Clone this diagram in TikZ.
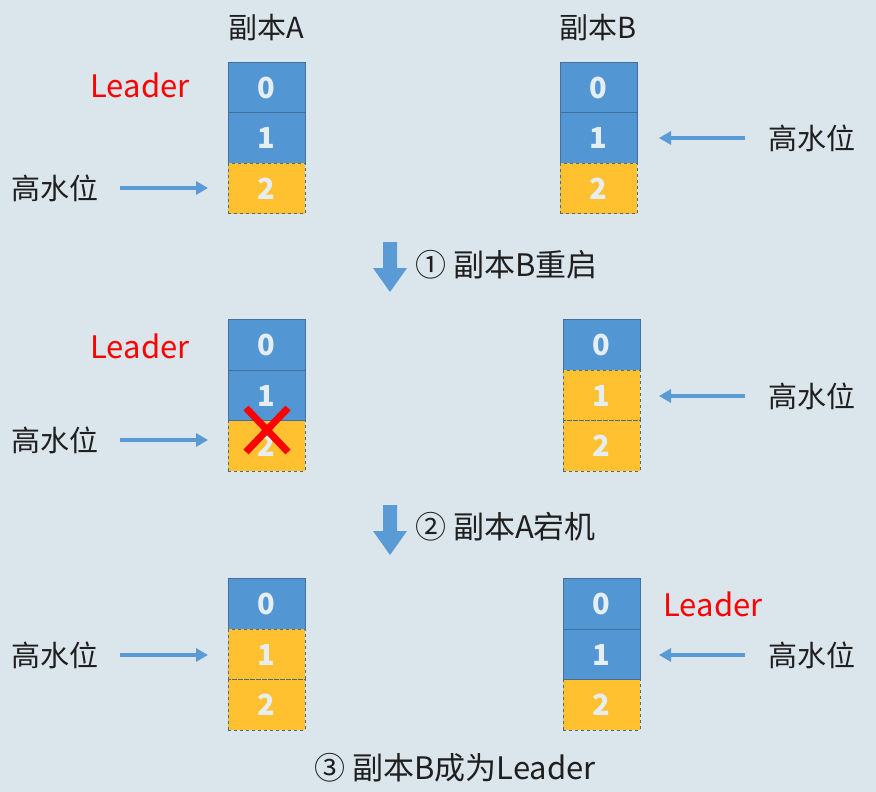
\documentclass[tikz,border=0pt]{standalone}
\usepackage{fontspec}
\setmainfont{Noto Sans CJK SC}
\usetikzlibrary{arrows.meta}
\definecolor{bg}{HTML}{DAE5EC}
\definecolor{bblue}{HTML}{5296D3}
\definecolor{bedge}{HTML}{41719C}
\definecolor{byel}{HTML}{FFC12F}
\definecolor{yedge}{HTML}{4A6A86}
\definecolor{digit}{HTML}{E6EEF3}
\definecolor{arr}{HTML}{5B9BD5}
\definecolor{lred}{HTML}{FF0000}
\begin{document}
\begin{tikzpicture}[x=1pt,y=-1pt,
  cell/.style={minimum width=77pt,minimum height=50.5pt,inner sep=0pt,outer sep=0pt,text=digit,font=\fontsize{29}{29}\selectfont\bfseries},
  bluecell/.style={cell,fill=bblue,draw=bedge,line width=1pt},
  yelcell/.style={cell,fill=byel,draw=yedge,dashed,line width=0.8pt},
  lbl/.style={font=\fontsize{29}{29}\selectfont,text=black!88,inner sep=0pt},
  steplbl/.style={font=\fontsize{31}{31}\selectfont,text=black!88,inner sep=0pt},
  ldr/.style={font=\fontsize{31}{31}\selectfont,text=lred,inner sep=0pt},
  hw/.style={-{Triangle[length=12pt,width=13pt]},arr,line width=3.5pt},
  blk/.style={fill=arr,draw=none}
]
\fill[bg] (0,0) rectangle (876,792);
\useasboundingbox (0,0) rectangle (876,792);

% titles
\node[lbl] (tA) at (266,28) {副本A};
\node[lbl] (tB) at (598,28) {副本B};

% ---------- section 1
\node[bluecell] (a10) at (266.5,87.5) {0};
\node[bluecell] (a11) at (266.5,138) {1};
\node[yelcell] (a12) at (266.5,188.5) {2};
\node[bluecell] (b10) at (598.5,87.5) {0};
\node[bluecell] (b11) at (598.5,138) {1};
\node[yelcell] (b12) at (598.5,188.5) {2};
\node[ldr] (l1) at (140,85) {Leader};
\node[lbl] (h1a) at (55,188) {高水位};
\node[lbl] (h1b) at (812,138) {高水位};
\coordinate (s1a) at (120,188);
\coordinate (s1b) at (745,138);
\draw[hw] (s1a) -- ([xshift=-20pt]a12.west |- s1a);
\draw[hw] (s1b) -- ([xshift=22pt]b11.east |- s1b);

% step 1
\fill[blk] (383,242) -- (397,242) -- (397,268) -- (407,268) -- (390,292) -- (373,268) -- (383,268) -- cycle;
\node[steplbl,anchor=west] (st1) at (415,265) {① 副本B重启};

% ---------- section 2
\node[bluecell] (a20) at (266.5,345) {0};
\node[bluecell] (a21) at (266.5,395.5) {1};
\node[yelcell] (a22) at (266.5,446) {2};
\node[bluecell] (b20) at (601.5,345) {0};
\node[yelcell] (b21) at (601.5,395.5) {1};
\node[yelcell] (b22) at (601.5,446) {2};
\node[ldr] (l2) at (140,346) {Leader};
\node[lbl] (h2a) at (55,440) {高水位};
\node[lbl] (h2b) at (812,396) {高水位};
\coordinate (s2a) at (120,440);
\coordinate (s2b) at (745,396);
\draw[hw] (s2a) -- ([xshift=-20pt]a22.west |- s2a);
\draw[hw] (s2b) -- ([xshift=19pt]b21.east |- s2b);
% red cross
\coordinate (xc) at (267,430);
\draw[lred,line width=7pt] ([shift={(-21,-22)}]xc) -- ([shift={(21,22)}]xc);
\draw[lred,line width=7pt] ([shift={(21,-22)}]xc) -- ([shift={(-21,22)}]xc);

% step 2
\fill[blk] (383,505) -- (397,505) -- (397,531) -- (407,531) -- (390,555) -- (373,531) -- (383,531) -- cycle;
\node[steplbl,anchor=west] (st2) at (415,527) {② 副本A宕机};

% ---------- section 3
\node[bluecell] (a30) at (266.5,604) {0};
\node[yelcell] (a31) at (266.5,654.5) {1};
\node[yelcell] (a32) at (266.5,705) {2};
\node[bluecell] (b30) at (601.5,604) {0};
\node[bluecell] (b31) at (601.5,654.5) {1};
\node[yelcell] (b32) at (601.5,705) {2};
\node[ldr] (l3) at (713,604) {Leader};
\node[lbl] (h3a) at (55,655) {高水位};
\node[lbl] (h3b) at (812,655) {高水位};
\coordinate (s3a) at (120,655);
\coordinate (s3b) at (745,655);
\draw[hw] (s3a) -- ([xshift=-20pt]a31.west |- s3a);
\draw[hw] (s3b) -- ([xshift=19pt]b31.east |- s3b);

\node[steplbl] (st3) at (455,768) {③ 副本B成为Leader};
\end{tikzpicture}
\end{document}
